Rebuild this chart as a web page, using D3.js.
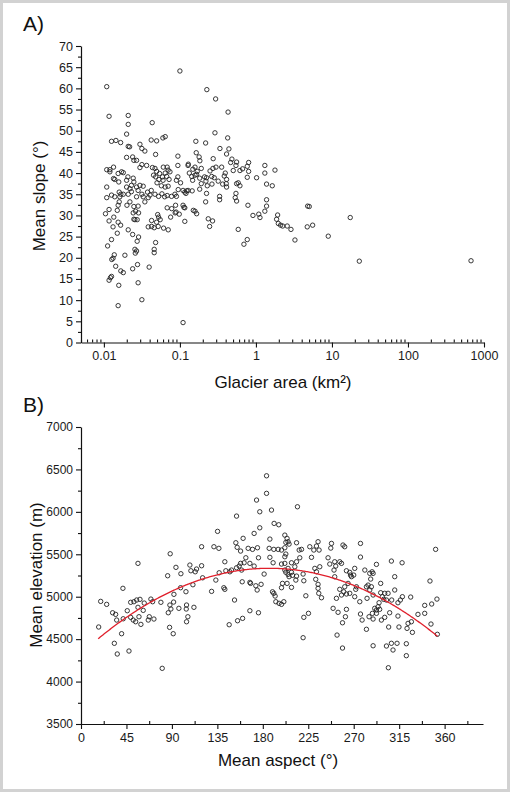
<!DOCTYPE html>
<html><head><meta charset="utf-8">
<script src="https://cdn.jsdelivr.net/npm/d3@7"></script>
<style>body{margin:0;background:#fff}</style>
</head><body>
<svg id="c" width="510" height="792"></svg>
<script>
// ---- Panel A data ----
const glacierArea = [0.0109,0.1,0.0117,0.0209,0.0209,0.0432,0.226,0.295,0.43,0.0199,
0.0126,0.0144,0.0166,0.0209,0.0218,0.0298,0.0316,0.0346,0.0419,0.0494,
0.0597,0.0641,0.0479,0.0941,0.162,0.218,0.289,0.425,0.441,0.164,
0.0199,0.0239,0.0248,0.0269,0.0109,0.012,0.012,0.0134,0.018,0.0207,
0.0298,0.0316,0.0365,0.0109,0.0126,0.0134,0.0157,0.0199,0.0243,0.0269,
0.0282,0.0298,0.0329,0.0435,0.047,0.0494,0.054,0.048,0.053,0.050,
0.0605,0.068,0.059,0.067,0.057,0.064,0.070,0.074,0.064,0.072,
0.094,0.094,0.128,0.148,0.158,0.158,0.169,0.191,0.182,0.211,
0.191,0.182,0.249,0.262,0.272,0.298,0.283,0.354,0.395,0.383,
0.411,0.407,0.411,0.546,0.0139,0.0154,0.0171,0.0199,0.022,0.023,
0.0248,0.0159,0.018,0.0139,0.0329,0.0375,0.0404,0.047,0.0524,0.063,
0.068,0.0776,0.086,0.090,0.095,0.116,0.128,0.145,0.224,0.0109,
0.0117,0.0105,0.0117,0.0135,0.015,0.0154,0.0159,0.0162,0.0167,0.0154,
0.0166,0.0132,0.015,0.0126,0.0112,0.0137,0.0132,0.0127,0.0143,0.0126,
0.0122,0.0117,0.0157,0.0154,0.0167,0.018,0.0189,0.0209,0.0239,0.0256,
0.0274,0.0248,0.0243,0.0261,0.0286,0.0201,0.022,0.0248,0.0282,0.0209,
0.023,0.0269,0.0316,0.0346,0.0383,0.0286,0.0274,0.0256,0.0269,0.0259,
0.0239,0.0277,0.0282,0.0316,0.0394,0.0459,0.0459,0.0479,0.0383,0.0424,
0.0459,0.0518,0.0424,0.0494,0.0524,0.051,0.055,0.061,0.0702,0.068,
0.0755,0.0867,0.098,0.116,0.110,0.110,0.113,0.0877,0.218,0.236,
0.246,0.269,0.158,0.166,0.333,0.333,0.534,0.557,0.585,0.058,
0.336,0.411,0.483,0.465,0.546,0.557,0.503,0.616,0.668,0.769,
0.802,0.802,0.769,0.557,0.585,0.616,1.02,1.31,1.31,1.38,
1.64,1.78,0.785,0.914,1.09,1.13,1.31,1.38,1.38,0.695,
0.769,1.93,1.87,1.97,2.11,2.25,2.58,2.89,3.26,4.79,
5.03,4.73,5.57,8.94,17.4,22.9,675,0.179,0.183,0.274,
0.143,0.147,0.09,0.102,0.11,0.123,0.12,0.15,0.116,0.078,
0.089,0.319,0.365,0.264,0.224,0.22,0.229,0.166,0.129,0.133,
0.045,0.06,0.042,0.07];
const meanSlope = [60.4,64.1,53.4,53.6,51.5,51.9,59.7,57.5,54.4,49.2,
47.5,47.7,47.2,46.3,46.2,46.8,45.8,45.2,47.8,47.6,
48.3,48.6,44.4,44.0,47.5,47.1,49.5,48.3,45.7,44.8,
43.7,43.8,43.0,43.0,40.8,40.8,40.3,41.4,40.1,39.1,
41.3,42.0,41.8,36.7,34.8,38.7,37.9,38.3,38.8,36.7,
35.9,37.1,36.9,41.3,41.1,40.4,39.9,39.1,38.5,37.7,
41.4,41.4,39.1,39.2,37.0,36.7,36.9,40.3,40.0,38.5,
39.1,41.8,41.8,40.9,41.4,39.5,40.4,41.1,38.8,39.1,
37.5,36.2,40.5,39.2,41.1,41.4,38.9,41.4,40.0,39.3,
38.5,37.5,36.7,35.2,38.5,39.9,40.3,36.7,36.3,37.1,
37.9,35.5,35.0,34.4,34.4,35.5,34.8,35.0,34.5,34.4,
34.7,34.5,35.0,34.5,36.1,35.5,35.9,35.8,35.2,34.2,
31.4,30.4,28.7,29.6,31.2,32.4,33.2,34.4,35.0,28.4,
27.7,27.3,25.8,24.3,22.8,20.7,19.9,19.6,18.0,15.6,
15.3,14.7,13.5,8.7,16.9,16.5,20.6,26.6,25.5,29.0,
29.0,29.1,30.6,31.0,30.6,32.4,33.2,32.1,32.2,35.0,
35.6,34.4,35.0,33.2,34.2,24.9,23.9,22.0,21.6,21.1,
17.4,18.4,14.1,10.1,17.8,22.0,21.2,23.6,27.3,27.4,
27.1,27.4,28.8,28.4,29.6,30.2,29.0,27.0,26.6,31.8,
29.6,30.6,30.3,28.6,4.7,32.4,31.9,32.4,33.2,29.2,
27.4,28.7,31.0,30.4,34.5,33.7,34.2,33.4,26.7,35.1,
45.8,44.5,43.3,42.5,41.8,42.6,40.6,40.6,41.0,41.6,
42.5,40.4,39.0,37.5,37.7,37.0,38.9,41.8,40.0,37.4,
37.0,40.7,32.4,30.0,30.3,29.5,31.0,32.2,33.7,23.2,
24.3,30.1,29.1,28.1,27.7,27.5,27.5,26.7,24.2,32.2,
32.1,27.3,27.7,25.1,29.5,19.2,19.3,43.8,42.9,43.4,
39.2,38.3,38.3,37.7,35.9,35.8,35.2,31.2,31.8,31.6,
30.8,38.1,37.4,37.4,38.9,38.1,37.0,39.7,42.1,40.0,
39.5,38.3,35.9,40.7];
const areaTickValues = [0.01, 0.1, 1, 10, 100, 1000];
const areaTickLabels = ["0.01", "0.1", "1", "10", "100", "1000"];
const slopeTickValues = [0,5,10,15,20,25,30,35,40,45,50,55,60,65,70];

// ---- Panel B data ----
const meanAspect = [17.5,19.5,25.4,31.3,34.3,35.3,33,35.9,40.2,41.8,
41.5,45.8,47.5,49.2,52.4,55.1,58.4,56.4,56.4,57.4,
49.2,51.7,54.1,59.3,61.6,62.6,66.6,67.6,69.2,70.9,
72.2,79.1,80.4,85.8,88.3,86.4,88,89,87.7,91.3,
91.7,92,94,96.9,98.6,98.9,103.9,104.5,104.2,105.8,
104.5,107.8,108.8,113.1,114.4,110.8,111.8,119.4,119.4,120.4,
129.3,131.6,133.5,135.2,136.5,136.8,142.4,141.4,142.4,143.4,
147.4,149,152,146.7,155,160,154,153.3,154.6,158,
160.5,154,156.6,159,158,161.5,163.2,159.6,165.5,169.8,
167.2,171.4,167.2,167.9,167.2,171.4,173.8,177,177,174.7,
175.7,178.3,173.1,174.4,175.7,181.3,183.7,183.7,188.6,187,
186.3,187,190.2,191.2,195.8,190.9,195.2,198.5,201.8,189.6,
190.9,192.2,192.9,196.1,198.5,200.8,198.5,201.8,201.8,202.8,
202.8,205,201.8,204,206,199.5,198.5,204,208.4,201.8,
205,202.8,205,206,209.4,208.4,208.4,211.7,213.4,212.7,
213.4,214.3,213.4,216,218.3,216.6,219.9,220.6,222.6,220.6,
225.2,219.9,226.5,228.2,230.5,233.1,234.7,235.7,231.5,233.1,
232.4,234.7,234.7,235.4,238.1,236.4,244.6,246.3,248,247.3,
251.2,252.2,250.5,256.2,257.9,259.4,261.1,262.8,264.4,261.1,
256.2,260.1,257.9,252.9,262.8,249.6,254.5,261.8,262.8,258.9,
253.5,258.9,276.7,276.7,266.1,267.8,266.8,270,271,281,
285.9,288.2,289.2,286.8,292.5,307.3,317.9,351.1,310.6,296.7,
251.2,266.1,272,271,276,272.7,282.6,284.2,285.9,287.5,
289.2,283.2,296.7,300.7,298.4,304,299.7,302.4,295.1,294.1,
292.5,290.8,288.5,292.5,295.7,297.4,300.7,305.6,307.6,310.6,
313.8,316.2,318.2,326.4,313.8,333.6,340.3,340.3,347.2,345.5,
352.4,352.8,346.5,327.1,323.8,322.8,328.1,314.8,304.6,289.2,
302.4,307.3,312.9,308.9,322.1,322.1,304.3,276.7,278.3,282.6,
285.2,289.2];
const meanElevation = [4643,4945,4910,4811,4792,4725,4451,4325,4564,4740,
5099,4835,4360,4934,4941,4961,4969,5393,4875,4764,
4757,4725,4705,4674,4839,4925,4725,4764,4972,4941,
4737,4934,4156,5247,5506,4811,4902,4855,4639,4564,
4937,5028,5346,4863,5106,5271,5059,4902,4855,4764,
4705,5373,5306,5294,5326,5141,4875,5589,5365,5223,
5063,5589,5196,5770,5570,5282,5412,5106,5087,5306,
5294,5314,4961,4670,4717,4745,5950,5636,5582,5538,
5688,5341,5361,5314,5393,5400,5459,5176,5570,5558,
5393,5361,5169,5157,4835,5746,6139,6001,5812,5577,
5459,5146,5129,5079,4811,5267,6425,6218,6021,5679,
5570,5464,5400,5864,5848,5558,5558,5550,5577,5058,
5040,5008,4941,4922,4910,4941,5385,5393,5471,5503,
5640,5648,5726,5687,5620,5157,5106,5157,5110,5314,
5334,5287,5263,5236,5252,5287,5400,5353,5412,5196,
5243,6060,5636,5550,5558,5459,5267,5188,5011,4757,
4804,4517,5589,5464,5550,5597,5648,5550,5334,5294,
5205,5146,5099,5040,4988,5353,5459,5385,5628,5573,
5412,5361,5314,5412,5393,5609,5589,5306,5157,5117,
5087,5058,5020,4981,5032,4863,4816,4764,4851,4693,
4548,4395,5628,5467,5287,5236,5255,5255,5334,5314,
5275,5294,5275,5208,5381,5420,5400,5558,5236,5157,
5235,5040,5087,5000,4941,5117,5117,5137,5079,5117,
5020,4981,5047,5040,5000,5040,4969,4961,4929,4882,
4843,4863,4804,4804,4851,4725,4757,4811,4961,5079,
4929,4961,5000,4996,4772,4792,4804,4898,4914,5185,
4972,4557,4678,4705,4686,4627,4580,4643,4643,4422,
4419,4451,4451,4372,4446,4305,4163,4796,4725,4616,
4764,4737];
const aspectTickValues = [0,45,90,135,180,225,270,315,360];
const elevationTickValues = [3500,4000,4500,5000,5500,6000,6500,7000];
// quadratic regression: elevation = c0 + c1*aspect + c2*aspect^2
const fitCoeffs = [4329.8, 10.78, -0.0289];
const fitRange = [17, 353];

const FONT = '"Liberation Sans", Arial, Helvetica, sans-serif';
const svg = d3.select("#c");

// frame
svg.append("rect").attr("x",0).attr("y",0).attr("width",510).attr("height",792).attr("fill","#fff");
svg.append("rect").attr("x",1.5).attr("y",1.5).attr("width",507).attr("height",789)
  .attr("fill","none").attr("stroke","#d2d2d2").attr("stroke-width",3);

function styleAxis(g, fs){
  g.selectAll("path.domain").attr("stroke","#111").attr("stroke-width",1.2);
  g.selectAll(".tick line").attr("stroke","#111").attr("stroke-width",1.1);
  g.selectAll(".tick text").attr("font-family",FONT).attr("font-size",(fs||12.5)+"px").attr("fill","#1a1a1a");
}

// ---------------- Panel A ----------------
const xA = d3.scaleLog().domain([0.005, 1000]).range([81, 484]);
const yA = d3.scaleLinear().domain([0, 70]).range([342.5, 46]);

const minorA = [];
for (let e = -3; e <= 2; e++) for (let m = 2; m <= 9; m++) {
  const v = m * Math.pow(10, e);
  if (v >= 0.005 && v <= 1000) minorA.push(v);
}
svg.append("g").attr("transform","translate(0,342.5)")
  .call(d3.axisTop(xA).tickValues(minorA).tickSize(3).tickSizeOuter(0).tickFormat(""))
  .call(g=>{styleAxis(g); g.select("path.domain").remove();});
svg.append("g").attr("transform","translate(0,342.5)")
  .call(d3.axisBottom(xA).tickValues(areaTickValues).tickSize(5).tickSizeOuter(0)
    .tickFormat((d,i)=>areaTickLabels[i]).tickPadding(4))
  .call(g=>styleAxis(g));

const slopeMinor = slopeTickValues.slice(0,-1).map(v=>v+2.5);
svg.append("g").attr("transform","translate(81,0)")
  .call(d3.axisLeft(yA).tickValues(slopeMinor).tickSize(3).tickSizeOuter(0).tickFormat(""))
  .call(g=>{styleAxis(g); g.select("path.domain").remove();});
svg.append("g").attr("transform","translate(81,0)")
  .call(d3.axisLeft(yA).tickValues(slopeTickValues).tickSize(5).tickSizeOuter(0).tickPadding(3)
    .tickFormat(d3.format("d")))
  .call(g=>styleAxis(g));

svg.append("g").selectAll("circle").data(glacierArea.map((a,i)=>[a, meanSlope[i]]))
  .join("circle").attr("cx",d=>xA(d[0])).attr("cy",d=>yA(d[1])).attr("r",2.2)
  .attr("fill","none").attr("stroke","#222").attr("stroke-width",0.9);

svg.append("text").attr("x",23).attr("y",31).attr("font-family",FONT).attr("font-size","21px")
  .attr("fill","#111").text("A)");
svg.append("text").attr("x",283).attr("y",388).attr("text-anchor","middle")
  .attr("font-family",FONT).attr("font-size","17px").attr("fill","#111").text("Glacier area (km²)");
svg.append("text").attr("transform","translate(45,196) rotate(-90)").attr("text-anchor","middle")
  .attr("font-family",FONT).attr("font-size","17px").attr("fill","#111").text("Mean slope (°)");

// ---------------- Panel B ----------------
const xB = d3.scaleLinear().domain([0, 398]).range([81, 483]);
const yB = d3.scaleLinear().domain([3500, 7000]).range([724, 427]);

const aspectMinor = d3.range(22.5, 398, 45);
svg.append("g").attr("transform","translate(0,724)")
  .call(d3.axisTop(xB).tickValues(aspectMinor).tickSize(3).tickSizeOuter(0).tickFormat(""))
  .call(g=>{styleAxis(g); g.select("path.domain").remove();});
svg.append("g").attr("transform","translate(0,724)")
  .call(d3.axisBottom(xB).tickValues(aspectTickValues).tickSize(5).tickSizeOuter(0).tickPadding(4)
    .tickFormat(d3.format("d")))
  .call(g=>styleAxis(g));

const elevMinor = elevationTickValues.slice(0,-1).map(v=>v+250);
svg.append("g").attr("transform","translate(81,0)")
  .call(d3.axisLeft(yB).tickValues(elevMinor).tickSize(3).tickSizeOuter(0).tickFormat(""))
  .call(g=>{styleAxis(g); g.select("path.domain").remove();});
svg.append("g").attr("transform","translate(81,0)")
  .call(d3.axisLeft(yB).tickValues(elevationTickValues).tickSize(5).tickSizeOuter(0).tickPadding(3)
    .tickFormat(d3.format("d")))
  .call(g=>styleAxis(g, 12));

svg.append("g").selectAll("circle").data(meanAspect.map((a,i)=>[a, meanElevation[i]]))
  .join("circle").attr("cx",d=>xB(d[0])).attr("cy",d=>yB(d[1])).attr("r",2.2)
  .attr("fill","none").attr("stroke","#222").attr("stroke-width",0.9);

const fitPts = d3.range(fitRange[0], fitRange[1] + 0.5, 1)
  .map(x=>[x, fitCoeffs[0] + fitCoeffs[1]*x + fitCoeffs[2]*x*x]);
svg.append("path").datum(fitPts)
  .attr("d", d3.line().x(d=>xB(d[0])).y(d=>yB(d[1])))
  .attr("fill","none").attr("stroke","#e0202c").attr("stroke-width",1.3);

svg.append("text").attr("x",23).attr("y",412).attr("font-family",FONT).attr("font-size","21px")
  .attr("fill","#111").text("B)");
svg.append("text").attr("x",278).attr("y",766).attr("text-anchor","middle")
  .attr("font-family",FONT).attr("font-size","17px").attr("fill","#111").text("Mean aspect (°)");
svg.append("text").attr("transform","translate(42,575) rotate(-90)").attr("text-anchor","middle")
  .attr("font-family",FONT).attr("font-size","17px").attr("fill","#111").text("Mean elevation (m)");
</script>
</body></html>
